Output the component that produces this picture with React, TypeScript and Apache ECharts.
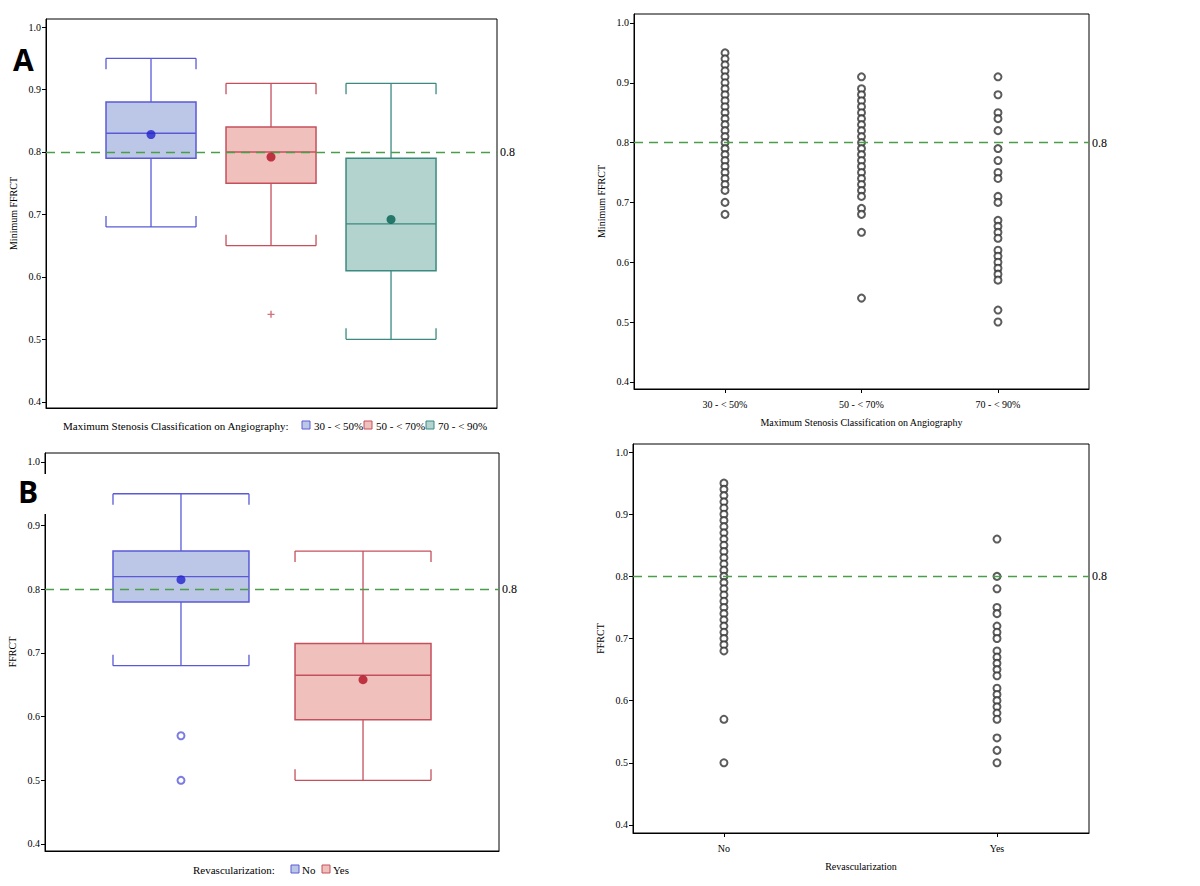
import { useEffect, useRef } from "react";
import * as echarts from "echarts";

// Panel A: box stats per stenosis class
const stenosisClasses = ["30 - < 50%", "50 - < 70%", "70 - < 90%"];
const aLow = [0.68, 0.65, 0.5];
const aQ1 = [0.79, 0.75, 0.61];
const aMedian = [0.83, 0.8, 0.685];
const aQ3 = [0.88, 0.84, 0.79];
const aHigh = [0.95, 0.91, 0.91];
const aMean = [0.828, 0.792, 0.692];
const aOutliers = [[1, 0.54]];

// Panel B: box stats per revascularization
const revascClasses = ["No", "Yes"];
const bLow = [0.68, 0.5];
const bQ1 = [0.78, 0.595];
const bMedian = [0.82, 0.665];
const bQ3 = [0.86, 0.715];
const bHigh = [0.95, 0.86];
const bMean = [0.815, 0.658];
const bOutliers = [[0, 0.57], [0, 0.5]];

// raw points for the scatter panels
const sten30 = [0.95, 0.94, 0.93, 0.92, 0.91, 0.9, 0.89, 0.88, 0.87, 0.86, 0.85, 0.84, 0.83, 0.82, 0.81, 0.8, 0.79, 0.78, 0.77, 0.76, 0.75, 0.74, 0.73, 0.72, 0.7, 0.68];
const sten50 = [0.91, 0.89, 0.88, 0.87, 0.86, 0.85, 0.84, 0.83, 0.82, 0.81, 0.8, 0.79, 0.78, 0.77, 0.76, 0.75, 0.74, 0.73, 0.72, 0.71, 0.69, 0.68, 0.65, 0.54];
const sten70 = [0.91, 0.88, 0.85, 0.84, 0.82, 0.79, 0.77, 0.75, 0.74, 0.71, 0.7, 0.67, 0.66, 0.65, 0.64, 0.62, 0.61, 0.6, 0.59, 0.58, 0.57, 0.52, 0.5];
const revascNo = [0.95, 0.94, 0.93, 0.92, 0.91, 0.9, 0.89, 0.88, 0.87, 0.86, 0.85, 0.84, 0.83, 0.82, 0.81, 0.8, 0.79, 0.78, 0.77, 0.76, 0.75, 0.74, 0.73, 0.72, 0.71, 0.7, 0.69, 0.68, 0.57, 0.5];
const revascYes = [0.86, 0.8, 0.78, 0.75, 0.74, 0.72, 0.71, 0.7, 0.68, 0.67, 0.66, 0.65, 0.64, 0.62, 0.61, 0.6, 0.59, 0.58, 0.57, 0.54, 0.52, 0.5];

const yTicks = [0.4, 0.5, 0.6, 0.7, 0.8, 0.9, 1.0];
const cutoff = 0.8;

const strokes = ["#5a5ad8", "#c4505c", "#3a8a80"];
const fills = ["#bcc6e6", "#f0c0bc", "#b3d3cf"];
const meanColors = ["#2222cc", "#b01020", "#00604f"];

const serif = "Liberation Serif";

const renderBox = (boxW: number) => (params: any, api: any) => {
  const i = api.value(0);
  const c = strokes[i];
  const half = api.size([boxW, 0])[0] / 2;
  const [x, yLow] = api.coord([i, api.value(1)]);
  const yQ1 = api.coord([i, api.value(2)])[1];
  const yMed = api.coord([i, api.value(3)])[1];
  const yQ3 = api.coord([i, api.value(4)])[1];
  const yHigh = api.coord([i, api.value(5)])[1];
  const ls = { stroke: c, lineWidth: 1.3 };
  const line = (x1: number, y1: number, x2: number, y2: number) => ({ type: "line", shape: { x1, y1, x2, y2 }, style: ls });
  return {
    type: "group",
    children: [
      { type: "rect", shape: { x: x - half, y: yQ3, width: half * 2, height: yQ1 - yQ3 }, style: { fill: fills[i], stroke: c, lineWidth: 1.5 } },
      line(x - half, yMed, x + half, yMed),
      line(x, yQ3, x, yHigh),
      line(x, yQ1, x, yLow),
      line(x - half, yHigh, x + half, yHigh),
      line(x - half, yHigh, x - half, yHigh + 11),
      line(x + half, yHigh, x + half, yHigh + 11),
      line(x - half, yLow, x + half, yLow),
      line(x - half, yLow, x - half, yLow - 11),
      line(x + half, yLow, x + half, yLow - 11),
    ],
  };
};

const refLine = {
  silent: true,
  symbol: "none",
  lineStyle: { color: "#4a9e4a", type: [9, 6], width: 1.3 },
  label: { position: "end", color: "#000", fontFamily: serif, fontSize: 12, formatter: "0.8", distance: 3 },
  data: [{ yAxis: cutoff }],
};

const yAxisFor = (gridIndex: number, min: number, max: number, name: string, nameGap: number) => ({
  type: "value",
  gridIndex,
  min,
  max,
  name,
  nameLocation: "middle",
  nameGap,
  nameTextStyle: { fontFamily: serif, fontSize: 10, color: "#000" },
  axisLine: { show: true, onZero: false, lineStyle: { color: "#000" } },
  axisTick: { show: true, length: 4, customValues: yTicks, lineStyle: { color: "#000" } },
  axisLabel: { customValues: yTicks, fontFamily: serif, fontSize: 10, color: "#000", formatter: (v: number) => v.toFixed(1), margin: 5 },
  splitLine: { show: false },
});

const xAxisFor = (gridIndex: number, min: number, max: number, cats: string[] | null, name: string) => ({
  type: "value",
  gridIndex,
  min,
  max,
  name,
  nameLocation: "middle",
  nameGap: 28,
  nameTextStyle: { fontFamily: serif, fontSize: 10, color: "#000" },
  axisLine: { show: true, onZero: false, lineStyle: { color: "#000" } },
  axisTick: { show: !!cats, length: 4, customValues: cats ? cats.map((_, i) => i) : [], lineStyle: { color: "#000" } },
  axisLabel: {
    show: !!cats,
    customValues: cats ? cats.map((_, i) => i) : [],
    fontFamily: serif,
    fontSize: 10,
    color: "#000",
    formatter: (v: number) => (cats ? cats[Math.round(v)] : ""),
    margin: 10,
  },
  splitLine: { show: false },
});

const points = (arr: number[], i: number) => arr.map((v) => [i, v]);

export default function App() {
  const ref = useRef<HTMLDivElement>(null);

  useEffect(() => {
    if (!ref.current) return;
    const chart = echarts.init(ref.current, null, { renderer: "svg" });

    const boxA = stenosisClasses.map((_, i) => [i, aLow[i], aQ1[i], aMedian[i], aQ3[i], aHigh[i]]);
    const boxB = revascClasses.map((_, i) => [i, bLow[i], bQ1[i], bMedian[i], bQ3[i], bHigh[i]]);

    const scatterStyle = {
      type: "scatter",
      symbol: "emptyCircle",
      symbolSize: 7,
      itemStyle: { color: "#333", borderColor: "#333", borderWidth: 0.9 },
    };

    const legendFont = `11px '${serif}'`;
    const legendA = stenosisClasses.flatMap((name, i) => [
      { type: "rect", shape: { x: 302 + i * 62, y: 421, width: 8, height: 8 }, style: { fill: fills[i], stroke: strokes[i], lineWidth: 1 } },
      { type: "text", x: 314 + i * 62, y: 426, style: { text: name, font: legendFont, fill: "#000", verticalAlign: "middle" } },
    ]);
    const legendB = revascClasses.flatMap((name, i) => [
      { type: "rect", shape: { x: 291 + i * 31, y: 865, width: 8, height: 8 }, style: { fill: fills[i], stroke: strokes[i], lineWidth: 1 } },
      { type: "text", x: 302 + i * 31, y: 870, style: { text: name, font: legendFont, fill: "#000", verticalAlign: "middle" } },
    ]);

    chart.setOption({
      animation: false,
      backgroundColor: "#fff",
      grid: [
        { left: 46, top: 19, width: 451, height: 389, show: true, borderColor: "#000", borderWidth: 1 },
        { left: 634, top: 14, width: 455, height: 375, show: true, borderColor: "#000", borderWidth: 1 },
        { left: 45, top: 453, width: 454, height: 398, show: true, borderColor: "#000", borderWidth: 1 },
        { left: 633, top: 444, width: 456, height: 389, show: true, borderColor: "#000", borderWidth: 1 },
      ],
      xAxis: [
        xAxisFor(0, -0.875, 2.883, null, ""),
        xAxisFor(1, -0.667, 2.667, stenosisClasses, "Maximum Stenosis Classification on Angiography"),
        xAxisFor(2, -0.747, 1.747, null, ""),
        xAxisFor(3, -0.333, 1.337, revascClasses, "Revascularization"),
      ],
      yAxis: [
        yAxisFor(0, 0.39, 1.013, "Minimum FFRCT", 28),
        yAxisFor(1, 0.388, 1.015, "Minimum FFRCT", 28),
        yAxisFor(2, 0.389, 1.014, "FFRCT", 28),
        yAxisFor(3, 0.387, 1.013, "FFRCT", 28),
      ],
      series: [
        { type: "custom", xAxisIndex: 0, yAxisIndex: 0, renderItem: renderBox(0.75), data: boxA, z: 2, markLine: refLine },
        {
          type: "scatter", xAxisIndex: 0, yAxisIndex: 0, symbolSize: 9, z: 5,
          data: aMean.map((v, i) => ({ value: [i, v], itemStyle: { color: meanColors[i] } })),
        },
        {
          type: "scatter", xAxisIndex: 0, yAxisIndex: 0, symbol: "path://M4 0h2v4h4v2h-4v4h-2v-4h-4v-2h4z", symbolSize: 7,
          itemStyle: { color: strokes[1] }, data: aOutliers,
        },
        { ...scatterStyle, xAxisIndex: 1, yAxisIndex: 1, data: points(sten30, 0), markLine: refLine },
        { ...scatterStyle, xAxisIndex: 1, yAxisIndex: 1, data: points(sten50, 1) },
        { ...scatterStyle, xAxisIndex: 1, yAxisIndex: 1, data: points(sten70, 2) },
        { type: "custom", xAxisIndex: 2, yAxisIndex: 2, renderItem: renderBox(0.747), data: boxB, z: 2, markLine: refLine },
        {
          type: "scatter", xAxisIndex: 2, yAxisIndex: 2, symbolSize: 9, z: 5,
          data: bMean.map((v, i) => ({ value: [i, v], itemStyle: { color: meanColors[i] } })),
        },
        {
          type: "scatter", xAxisIndex: 2, yAxisIndex: 2, symbol: "emptyCircle", symbolSize: 7,
          itemStyle: { color: strokes[0], borderColor: strokes[0], borderWidth: 0.9 }, data: bOutliers,
        },
        { ...scatterStyle, xAxisIndex: 3, yAxisIndex: 3, data: points(revascNo, 0), markLine: refLine },
        { ...scatterStyle, xAxisIndex: 3, yAxisIndex: 3, data: points(revascYes, 1) },
      ],
      graphic: [
        { type: "text", x: 13, y: 44, style: { text: "A", font: "bold 30px 'Open Sans', 'DejaVu Sans', sans-serif", fill: "#000" } },
        { type: "rect", shape: { x: 40, y: 474, width: 10, height: 40 }, style: { fill: "#fff" }, z: 100 },
        { type: "text", x: 18, y: 476, style: { text: "B", font: "bold 30px 'Open Sans', 'DejaVu Sans', sans-serif", fill: "#000" }, z: 101 },
        { type: "text", x: 63, y: 426, style: { text: "Maximum Stenosis Classification on Angiography:", font: legendFont, fill: "#000", verticalAlign: "middle" } },
        ...legendA,
        { type: "text", x: 193, y: 870, style: { text: "Revascularization:", font: legendFont, fill: "#000", verticalAlign: "middle" } },
        ...legendB,
      ],
    });

    return () => chart.dispose();
  }, []);

  return <div ref={ref} style={{ position: "fixed", left: 0, top: 0, width: 1200, height: 886 }} />;
}
